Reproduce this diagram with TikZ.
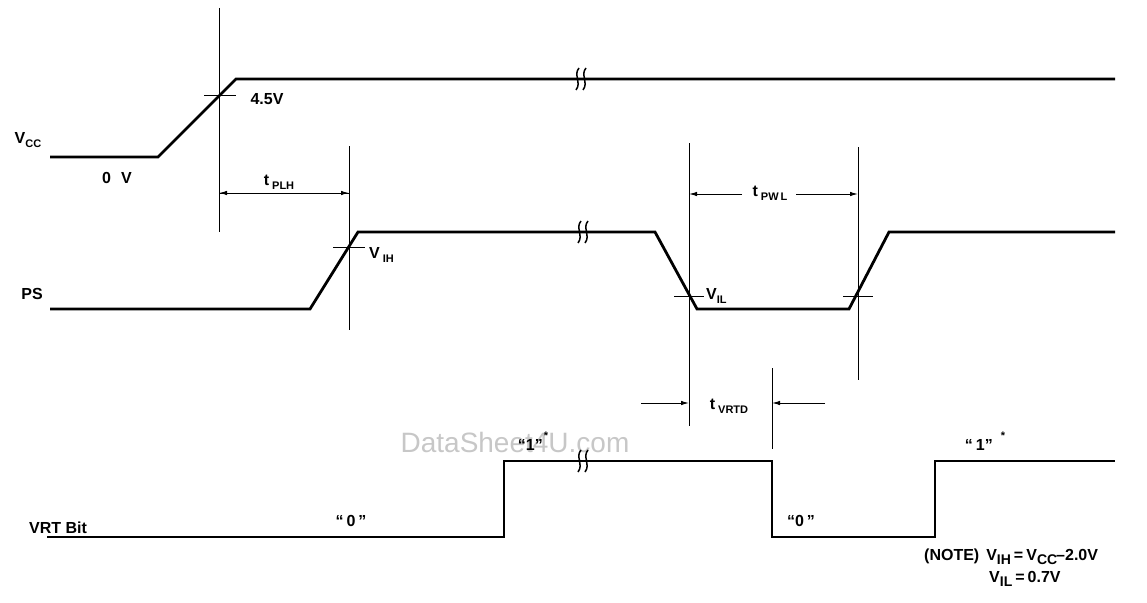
\documentclass[tikz,border=0pt]{standalone}
\usepackage{fontspec}
\setmainfont{Liberation Sans}
\usetikzlibrary{arrows.meta}
\newcommand{\lsub}[1]{\raisebox{-0.45ex}{\fontsize{11}{11}\selectfont #1}}
\newcommand{\nsub}[1]{\raisebox{-0.45ex}{\fontsize{14}{14}\selectfont #1}}
\newcommand{\lstar}{\raisebox{1.3ex}{\fontsize{11}{11}\selectfont *}}
\begin{document}
\begin{tikzpicture}[x=1pt,y=-1pt,
  sig/.style={line width=2.8pt},
  guide/.style={line width=1pt},
  tick/.style={line width=1pt},
  dim/.style={line width=1pt,-{Latex[length=8pt,width=4.5pt]}},
  lbl/.style={font=\bfseries\fontsize{16}{17}\selectfont,inner sep=0pt},
  brkstroke/.style={line width=1.5pt},
  brk/.pic={\draw[brkstroke] (1,-11) .. controls (-5,-4) and (4,3) .. (-2,11);
            \draw[brkstroke] (8,-11) .. controls (2,-4) and (11,3) .. (5,11);}]
\useasboundingbox (0,0) rectangle (1147,602);

% watermark
\node[text=black!22,font=\fontsize{28}{30}\selectfont,inner sep=0pt] (wm) at (515,442) {DataSheet4U.com};

% ---------- Vcc ----------
\coordinate (v0) at (50,157);
\coordinate (v1) at (158,157);
\coordinate (v2) at (236,79);
\coordinate (v3) at (1115,79);
\draw[sig] (v0) -- (v1) -- (v2) -- (v3);
\pic at (578,79) {brk};
\node[lbl] (vcc) at (28,140) {V\lsub{CC}};
\node[lbl] (zv) at (117,178) {0\hspace{10pt}V};
\node[lbl] (v45) at (267,99) {4.5V};
\coordinate (g1t) at (219,8);
\coordinate (g1b) at (219,232);
\draw[guide] (g1t) -- (g1b);
\draw[tick] (204,95) -- (236,95);

% ---------- PS ----------
\coordinate (p0) at (50,309);
\coordinate (p1) at (310,309);
\coordinate (p2) at (358,232);
\coordinate (p3) at (655,232);
\coordinate (p4) at (697,309);
\coordinate (p5) at (849,309);
\coordinate (p6) at (889,232);
\coordinate (p7) at (1115,232);
\draw[sig] (p0) -- (p1) -- (p2) -- (p3) -- (p4) -- (p5) -- (p6) -- (p7);
\pic at (580,232) {brk};
\node[lbl] (ps) at (32,294) {PS};

\coordinate (g2t) at (349,146);
\coordinate (g2b) at (349,330);
\draw[guide] (g2t) -- (g2b);
\draw[tick] (333,247) -- (365,247);
\node[lbl,anchor=west] (vih) at (369,255) {V\hspace{3pt}\lsub{IH}};

\coordinate (a1) at (219,193);
\coordinate (a2) at (349,193);
\draw[dim] (a1) -- (a2);
\draw[dim] (a2) -- (a1);
\node[lbl] (tplh) at (279,182) {t\hspace{3pt}\lsub{PLH}};

\coordinate (g3t) at (689,143);
\coordinate (g3b) at (689,426);
\draw[guide] (g3t) -- (g3b);
\coordinate (g4t) at (858,147);
\coordinate (g4b) at (858,380);
\draw[guide] (g4t) -- (g4b);
\draw[tick] (674,296) -- (704,296);
\draw[tick] (843,296) -- (873,296);
\node[lbl,anchor=west] (vil) at (706,296) {V\lsub{IL}};

\coordinate (b1) at (689,194);
\coordinate (b2) at (858,194);
\coordinate (b1m) at (742,194);
\coordinate (b2m) at (796,194);
\draw[dim] (b1m) -- (b1);
\draw[dim] (b2m) -- (b2);
\node[lbl] (tpwl) at (770,193) {t\hspace{3pt}\lsub{PW\hspace{2pt}L}};

% ---------- tVRTD ----------
\coordinate (g5t) at (772,368);
\coordinate (g5b) at (772,449);
\draw[guide] (g5t) -- (g5b);
\coordinate (c1) at (641,403);
\coordinate (c2) at (825,403);
\coordinate (c1e) at (689,403);
\coordinate (c2e) at (772,403);
\draw[dim] (c1) -- (c1e);
\draw[dim] (c2) -- (c2e);
\node[lbl] (tvrtd) at (729,406) {t\hspace{3pt}\lsub{VRTD}};

% ---------- VRT Bit ----------
\coordinate (r0) at (47,537);
\coordinate (r1) at (504,537);
\coordinate (r2) at (504,461);
\coordinate (r3) at (772,461);
\coordinate (r4) at (772,537);
\coordinate (r5) at (935,537);
\coordinate (r6) at (935,461);
\coordinate (r7) at (1115,461);
\draw[sig,line width=2.6pt] (r0) -- (r1) -- (r2) -- (r3) -- (r4) -- (r5) -- (r6) -- (r7);
\pic at (580,461) {brk};
\node[lbl] (vrt) at (58,528) {VRT Bit};
\node[lbl] (z1) at (351,521) {``\hspace{3pt}0\hspace{3pt}''};
\node[lbl] (o1) at (533,441) {``1''\hspace{1pt}\lstar};
\node[lbl] (z2) at (801,521) {``0\hspace{3pt}''};
\node[lbl] (o2) at (985,441) {``\hspace{3pt}1''\hspace{8pt}\lstar};

% ---------- note ----------
\node[lbl,anchor=west] (note) at (924,557) {(NOTE)\hspace{7pt}V\nsub{IH}\hspace{3pt}=\hspace{3pt}V\nsub{CC}\hspace{-1pt}--2.0V};
\node[lbl,anchor=west] (note2) at (989,579) {V\nsub{IL}\hspace{3pt}=\hspace{3pt}0.7V};
\end{tikzpicture}
\end{document}
